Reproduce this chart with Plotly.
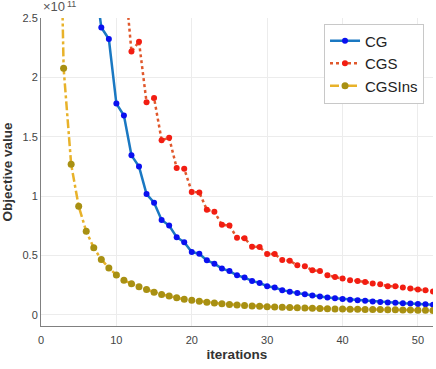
import plotly.graph_objects as go

# values in units of 1e11
cg_x = list(range(1, 53))
cg_y = [12.0, 8.0, 6.0, 4.5, 3.6, 3.05, 2.9,
        2.42, 2.323, 1.779, 1.678, 1.343, 1.248, 1.017, 0.944, 0.799, 0.751,
        0.653, 0.611, 0.528, 0.514, 0.458, 0.43, 0.389, 0.368, 0.332, 0.313,
        0.285, 0.268, 0.240, 0.229, 0.207, 0.193, 0.182, 0.173, 0.162, 0.153,
        0.146, 0.138, 0.133, 0.127, 0.122, 0.117, 0.112, 0.108, 0.104, 0.100,
        0.097, 0.094, 0.091, 0.088, 0.085]

cgs_x = list(range(10, 53))
cgs_y = [3.05, 2.92,
         2.217, 2.30, 1.79, 1.826, 1.471, 1.491, 1.236, 1.230, 1.035, 1.03,
         0.885, 0.868, 0.758, 0.751, 0.648, 0.645, 0.573, 0.570, 0.511, 0.511,
         0.461, 0.455, 0.416, 0.408, 0.374, 0.369, 0.332, 0.318, 0.305, 0.29,
         0.285, 0.276, 0.263, 0.257, 0.240, 0.240, 0.229, 0.221, 0.213, 0.207,
         0.196]

ins_x = list(range(1, 53))
ins_y = [25.0, 5.3,
         2.077, 1.268, 0.913, 0.703, 0.564, 0.466, 0.394, 0.335, 0.29, 0.26,
         0.235, 0.213, 0.19, 0.171, 0.157, 0.142, 0.131, 0.123, 0.113, 0.105,
         0.098, 0.092, 0.087, 0.082, 0.078, 0.074, 0.071, 0.068, 0.065, 0.062,
         0.060, 0.058, 0.056, 0.054, 0.052, 0.050, 0.049, 0.048, 0.047, 0.046,
         0.045, 0.044, 0.043, 0.042, 0.041, 0.040, 0.039, 0.038, 0.037, 0.036]

x_ticks = [0, 10, 20, 30, 40, 50]
y_ticks = [0, 0.5, 1, 1.5, 2, 2.5]
y_tick_text = ["0", "0.5", "1", "1.5", "2", "2.5"]
exp_base = "×10"
exp_power = "11"

font_family = "Liberation Sans, Arial, sans-serif"

fig = go.Figure()
fig.add_trace(go.Scatter(
    x=cg_x, y=cg_y, name="CG", mode="lines+markers",
    line=dict(color="#1a78c2", width=2.5),
    marker=dict(color="#0a10f0", size=6, symbol="circle"),
))
fig.add_trace(go.Scatter(
    x=cgs_x, y=cgs_y, name="CGS", mode="lines+markers",
    line=dict(color="#e0582c", width=2.5, dash="dot"),
    marker=dict(color="#f21d12", size=6, symbol="circle"),
))
fig.add_trace(go.Scatter(
    x=ins_x, y=ins_y, name="CGSIns", mode="lines+markers",
    line=dict(color="#e8b22a", width=2.5, dash="dashdot"),
    marker=dict(color="#a89012", size=7, symbol="circle"),
))

fig.update_layout(
    width=436, height=369,
    margin=dict(l=41, r=3, t=18, b=43),
    paper_bgcolor="white", plot_bgcolor="white",
    font=dict(family=font_family, size=11, color="#404040"),
    showlegend=True,
    legend=dict(
        x=0.722, y=0.982, xanchor="left", yanchor="top",
        bgcolor="white", bordercolor="#c8c8c8", borderwidth=1,
        font=dict(size=15, color="#222222", family=font_family),
        tracegroupgap=0, itemwidth=30,
    ),
    xaxis=dict(
        range=[0, 52], tickvals=x_ticks, showgrid=True, gridcolor="#ececec",
        showline=True, linecolor="#808080", linewidth=1, ticks="",
        ticklabelstandoff=4, zeroline=False,
        tickfont=dict(size=11, color="#444444"),
        title=dict(text="<b>iterations</b>", font=dict(size=13.5, color="#333333"), standoff=4),
    ),
    yaxis=dict(
        range=[-0.095, 2.5], tickvals=y_ticks, ticktext=y_tick_text,
        showgrid=True, gridcolor="#ececec",
        showline=True, linecolor="#808080", linewidth=1, ticks="", zeroline=False,
        tickfont=dict(size=11, color="#444444"),
        title=dict(text="<b>Objective value</b>", font=dict(size=13.5, color="#333333"), standoff=6),
    ),
    annotations=[
        dict(x=0, y=1, xref="paper", yref="paper", xanchor="left", yanchor="bottom",
             text=exp_base, showarrow=False, xshift=0, yshift=2,
             font=dict(size=13, color="#555555", family=font_family)),
        dict(x=0, y=1, xref="paper", yref="paper", xanchor="left", yanchor="bottom",
             text=exp_power, showarrow=False, xshift=24, yshift=7,
             font=dict(size=9, color="#555555", family=font_family)),
    ],
)

fig.write_html("out.html")
